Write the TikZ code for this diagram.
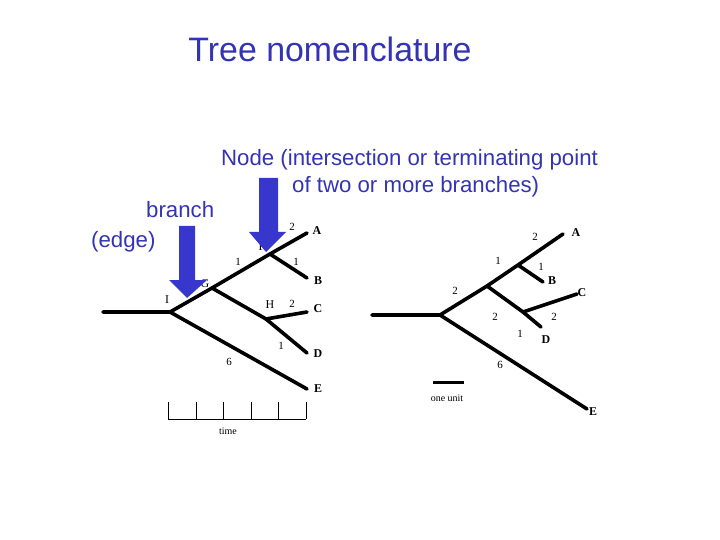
\documentclass[tikz,border=0pt]{standalone}
\usepackage{fontspec}
\setmainfont{Liberation Serif}
\newfontfamily\arialfont{Liberation Sans}
\definecolor{slideblue}{RGB}{51,51,180}
\definecolor{arrowblue}{RGB}{55,55,205}

\begin{document}
\begin{tikzpicture}[x=1bp,y=-1bp,
  edge/.style={line width=3.6bp, line cap=round},
  leaf/.style={font=\fontsize{12}{12}\selectfont\bfseries},
  len/.style={font=\fontsize{11}{11}\selectfont},
  slide/.style={font=\arialfont, text=slideblue, anchor=base west, inner sep=0pt}]
\useasboundingbox (0,0) rectangle (720,540);

% title and captions
\node[slide, font=\arialfont\fontsize{34}{34}\selectfont, anchor=base] (title) at (330,62) {Tree nomenclature};
\node[slide, font=\arialfont\fontsize{22.3}{22}\selectfont] (nodetxt) at (221,166) {Node (intersection or terminating point};
\node[slide, font=\arialfont\fontsize{22.3}{22}\selectfont] (nodetxt2) at (292,193) {of two or more branches)};
\node[slide, font=\arialfont\fontsize{22.3}{22}\selectfont] (branchtxt) at (146,218) {branch};
\node[slide, font=\arialfont\fontsize{22.3}{22}\selectfont] (edgetxt) at (91,248) {(edge)};

% left tree
\coordinate (lR) at (103,312);
\coordinate (lI) at (170,312);
\coordinate (lG) at (212,288);
\coordinate (lF) at (270,254);
\coordinate (lH) at (266,319);
\coordinate (lA) at (307,233);
\coordinate (lB) at (307,278);
\coordinate (lC) at (307,312);
\coordinate (lD) at (307,353);
\coordinate (lE) at (307,389);

  \draw[edge] (lR) -- (lI) -- (lG) -- (lF) -- (lA);
  \draw[edge] (lF) -- (lB);
  \draw[edge] (lG) -- (lH) -- (lC);
  \draw[edge] (lH) -- (lD);
  \draw[edge] (lI) -- (lE);

   \node[leaf] (lAl) at (317,231) {A};
   \node[leaf] (lBl) at (318,281) {B};
   \node[leaf] (lCl) at (318,309) {C};
   \node[leaf] (lDl) at (318,354) {D};
   \node[leaf] (lEl) at (318,389) {E};
   \node[leaf, font=\fontsize{12}{12}\selectfont] (lIl) at (167,300) {I};
   \node[leaf, font=\fontsize{12}{12}\selectfont] (lGl) at (205,284) {G};
   \node[leaf, font=\fontsize{12}{12}\selectfont] (lFl) at (262,247) {F};
   \node[leaf, font=\fontsize{12}{12}\selectfont] (lHl) at (270,305) {H};

   \node[len] (l1) at (292,227) {2};
   \node[len] (l2) at (238,262) {1};
   \node[len] (l3) at (296,262) {1};
   \node[len] (l4) at (292,304) {2};
   \node[len] (l5) at (281,346) {1};
   \node[len] (l6) at (229,362) {6};

% time scale
  \draw[line width=0.8bp] (168,419) -- (306,419);
  \foreach \x in {168,196,223,251,278,306}
    \draw[line width=0.8bp] (\x,419) -- (\x,402);
   \node[len, font=\fontsize{10}{10}\selectfont] (timel) at (228,431) {time};

% right tree
\coordinate (rR) at (372,315);
\coordinate (rN) at (440,315);
\coordinate (rJ) at (487,286);
\coordinate (rK) at (518,265);
\coordinate (rL) at (523,312);
\coordinate (rA) at (563,234);
\coordinate (rB) at (543,282);
\coordinate (rC) at (577,294);
\coordinate (rD) at (541,327);
\coordinate (rE) at (587,409);

  \draw[edge] (rR) -- (rN) -- (rJ) -- (rK) -- (rA);
  \draw[edge] (rK) -- (rB);
  \draw[edge] (rJ) -- (rL) -- (rD);
  \draw[edge] (rL) -- (rC);
  \draw[edge] (rN) -- (rE);

   \node[leaf] (rAl) at (576,233) {A};
   \node[leaf] (rBl) at (552,281) {B};
   \node[leaf] (rCl) at (582,293) {C};
   \node[leaf] (rDl) at (546,340) {D};
   \node[leaf] (rEl) at (593,412) {E};

   \node[len] (r1) at (535,237) {2};
   \node[len] (r2) at (498,261) {1};
   \node[len] (r3) at (541,267) {1};
   \node[len] (r4) at (455,291) {2};
   \node[len] (r5) at (495,317) {2};
   \node[len] (r6) at (554,317) {2};
   \node[len] (r7) at (520,334) {1};
   \node[len] (r8) at (500,365) {6};

% unit bar
\coordinate (u1) at (433,382);
\coordinate (u2) at (464,382);
  \draw[line width=3bp] (u1) -- (u2);
   \node[len, font=\fontsize{10}{10}\selectfont] (unitl) at (447,398) {one unit};

% blue pointer arrows
   \fill[arrowblue] (179,226) -- (195,226) -- (195,280) -- (207,280) -- (187,298)
     -- (169,280) -- (179,280) -- cycle;
   \fill[arrowblue] (259,178) -- (278,178) -- (278,232) -- (286,232) -- (266,252)
     -- (249,232) -- (259,232) -- cycle;
\end{tikzpicture}
\end{document}
